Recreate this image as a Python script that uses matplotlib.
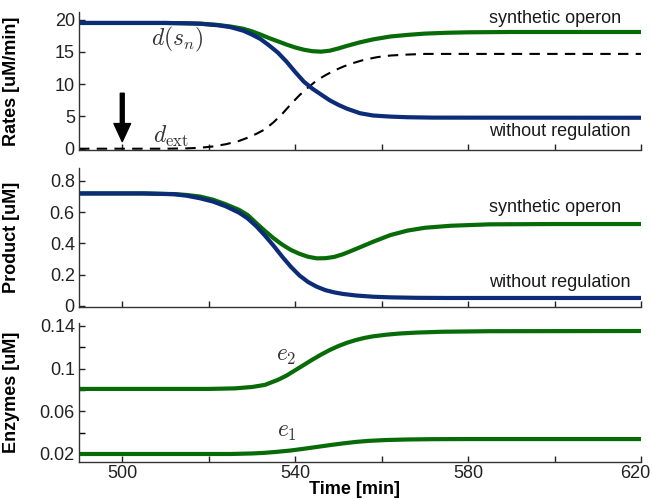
import matplotlib
matplotlib.use("Agg")
import matplotlib.pyplot as plt
from matplotlib.transforms import ScaledTranslation

plt.rcParams["font.family"] = ["Liberation Sans", "DejaVu Sans"]
plt.rcParams["mathtext.fontset"] = "cm"

# --- data ---
t_rate_blue = [490, 510, 515, 518, 522, 525, 528, 530, 532, 534, 536, 538, 540, 542, 544, 546,
               548, 550, 552, 555, 558, 562, 566, 572, 620]
rate_blue = [19.5, 19.5, 19.45, 19.38, 19.15, 18.86, 18.3, 17.7, 17.0, 16.0, 14.9, 13.5, 11.9,
             10.4, 9.3, 8.4, 7.5, 6.8, 6.2, 5.5, 5.15, 4.98, 4.88, 4.82, 4.8]
t_rate_green = [490, 510, 518, 522, 525, 528, 530, 532, 534, 536, 538, 540, 542, 544, 546, 548,
                550, 552, 555, 558, 562, 566, 570, 575, 580, 590, 620]
rate_green = [19.5, 19.5, 19.4, 19.2, 18.95, 18.6, 18.2, 17.7, 17.15, 16.65, 16.15, 15.7, 15.35,
              15.12, 15.05, 15.2, 15.55, 15.95, 16.5, 16.95, 17.4, 17.65, 17.85, 17.98, 18.05,
              18.1, 18.1]
t_dext = [490, 510, 515, 518, 521, 524, 527, 529, 531, 533, 535, 537, 539, 541, 543, 545, 547,
          549, 551, 553, 556, 559, 562, 566, 570, 620]
dext = [0, 0, 0.05, 0.15, 0.35, 0.7, 1.2, 1.7, 2.3, 3.0, 4.1, 5.4, 6.9, 8.3, 9.5, 10.6, 11.4,
        12.1, 12.7, 13.2, 13.8, 14.2, 14.45, 14.6, 14.7, 14.7]

t_prod_blue = [490, 505, 512, 515, 518, 521, 524, 527, 529, 531, 533, 535, 537, 539, 541, 543,
               545, 547, 549, 551, 554, 558, 562, 568, 575, 620]
prod_blue = [0.72, 0.72, 0.715, 0.705, 0.689, 0.668, 0.637, 0.597, 0.56, 0.51, 0.45, 0.385,
             0.315, 0.25, 0.194, 0.152, 0.122, 0.1, 0.086, 0.076, 0.066, 0.058, 0.054, 0.051,
             0.05, 0.05]
t_prod_green = [490, 505, 512, 515, 518, 521, 524, 527, 529, 531, 533, 535, 537, 539, 541, 543,
                545, 547, 549, 551, 553, 555, 558, 562, 566, 570, 576, 585, 600, 620]
prod_green = [0.72, 0.72, 0.716, 0.71, 0.70, 0.68, 0.65, 0.615, 0.582, 0.53, 0.48, 0.433, 0.392,
              0.358, 0.333, 0.314, 0.304, 0.305, 0.313, 0.33, 0.352, 0.375, 0.41, 0.453, 0.482,
              0.5, 0.513, 0.522, 0.524, 0.524]

t_e2 = [490, 520, 526, 530, 533, 536, 538, 540, 542, 544, 546, 548, 550, 552, 554, 556, 558,
        561, 564, 568, 574, 585, 620]
e2 = [0.081, 0.081, 0.0815, 0.0828, 0.0848, 0.0895, 0.0935, 0.0985, 0.1035, 0.1085, 0.1132,
      0.1175, 0.1212, 0.1243, 0.1268, 0.1288, 0.1303, 0.1318, 0.1329, 0.1338, 0.1346, 0.1351,
      0.1353]
t_e1 = [490, 525, 530, 533, 536, 539, 542, 545, 548, 551, 554, 557, 561, 566, 572, 580, 620]
e1 = [0.020, 0.020, 0.0205, 0.0211, 0.0221, 0.0233, 0.0249, 0.0266, 0.0283, 0.0299, 0.0313,
      0.0323, 0.0331, 0.0336, 0.0339, 0.034, 0.034]

x_ticks = [500, 520, 540, 560, 580, 600, 620]
x_ticklabels = ["500", "", "540", "", "580", "", "620"]
rate_ticks = [0, 5, 10, 15, 20]
prod_ticks = [0, 0.2, 0.4, 0.6, 0.8]
prod_ticklabels = ["0", "0.2", "0.4", "0.6", "0.8"]
enz_ticks = [0.02, 0.06, 0.1, 0.14]
enz_ticklabels = ["0.02", "0.06", "0.1", "0.14"]
enz_minor = [0.04, 0.08, 0.12]

green = "#076b07"
blue = "#0c2c78"
txt = "#1a1a1a"
fs = 13
mfs = 17

fig = plt.figure(figsize=(6.52, 4.98), dpi=100, facecolor="w")
ax1 = fig.add_axes([0.1212, 0.6988, 0.862, 0.2771])
ax2 = fig.add_axes([0.1212, 0.3835, 0.862, 0.2791])
ax3 = fig.add_axes([0.1212, 0.0723, 0.862, 0.2791])

for ax in (ax1, ax2, ax3):
    ax.spines["top"].set_visible(False)
    ax.spines["right"].set_visible(False)
    for s in ("left", "bottom"):
        ax.spines[s].set_color("#333333")
        ax.spines[s].set_linewidth(1.0)
    ax.set_xlim(490, 620)
    ax.set_xticks(x_ticks)
    ax.set_xticklabels([])
    ax.tick_params(direction="in", length=4, width=1, labelsize=fs, colors="#222222", pad=3)
    ax.tick_params(which="minor", direction="in", length=4, width=1)
    ax.yaxis.set_label_coords(-0.105, 0.5)

# rates
ax1.plot(t_dext, dext, "k--", lw=1.5, dashes=(5, 3.5))
ax1.plot(t_rate_green, rate_green, color=green, lw=3, solid_capstyle="butt")
ax1.plot(t_rate_blue, rate_blue, color=blue, lw=3, solid_capstyle="butt")
ax1.set_ylim(-0.2, 21.2)
ax1.set_yticks(rate_ticks)
ax1.set_ylabel("Rates [uM/min]", fontsize=fs, fontweight="bold")
ax1.text(600.2, 20.2, "synthetic operon", fontsize=fs, color=txt, ha="center", va="center")
ax1.text(601.3, 2.7, "without regulation", fontsize=fs, color=txt, ha="center", va="center")
ax1.text(512.7, 16.9, r"$d(s_n)$", fontsize=mfs, color="#333333", ha="center", va="center")
ax1.text(511.3, 1.9, r"$d_{\rm ext}$", fontsize=mfs, color="#333333", ha="center", va="center")
ax1.annotate("", xy=(500, 1.1), xytext=(500, 8.6),
             arrowprops=dict(facecolor="black", edgecolor="black", width=2.8, headwidth=12,
                             headlength=13, shrink=0))

# product
ax2.plot(t_prod_green, prod_green, color=green, lw=3, solid_capstyle="butt")
ax2.plot(t_prod_blue, prod_blue, color=blue, lw=3, solid_capstyle="butt")
ax2.set_ylim(-0.008, 0.883)
ax2.set_yticks(prod_ticks)
ax2.set_yticklabels(prod_ticklabels)
ax2.set_ylabel("Product [uM]", fontsize=fs, fontweight="bold")
ax2.text(600.2, 0.627, "synthetic operon", fontsize=fs, color=txt, ha="center", va="center")
ax2.text(601.3, 0.146, "without regulation", fontsize=fs, color=txt, ha="center", va="center")

# enzymes
ax3.plot(t_e2, e2, color=green, lw=3, solid_capstyle="butt")
ax3.plot(t_e1, e1, color=green, lw=3, solid_capstyle="butt")
ax3.set_ylim(0.0125, 0.1428)
ax3.set_yticks(enz_ticks)
ax3.set_yticklabels(enz_ticklabels)
ax3.set_yticks(enz_minor, minor=True)
ax3.set_xticklabels(x_ticklabels)
ax3.tick_params(axis="x", pad=2)
ax3.set_ylabel("Enzymes [uM]", fontsize=fs, fontweight="bold")
ax3.set_xlabel("Time [min]", fontsize=fs, fontweight="bold")
ax3.xaxis.set_label_coords(0.49, -0.135)
ax3.text(537.9, 0.1118, r"$e_2$", fontsize=mfs, color="#333333", ha="center", va="center")
ax3.text(538.2, 0.0409, r"$e_1$", fontsize=mfs, color="#333333", ha="center", va="center")

# last tick label sits a little left so it stays inside the figure
last = ax3.get_xticklabels()[-1]
last.set_transform(last.get_transform() + ScaledTranslation(-6 / 100, 0, fig.dpi_scale_trans))

fig.savefig("out.png", dpi=100)
